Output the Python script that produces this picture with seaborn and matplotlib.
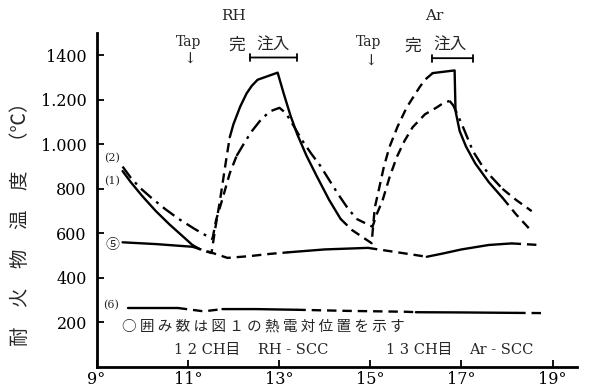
import matplotlib
matplotlib.use("Agg")
import matplotlib.pyplot as plt
import seaborn as sns
import pandas as pd

# 時刻 (h) と温度 (℃) - 図から読み取り
x_ticks = [9, 11, 13, 15, 17, 19]
x_labels = ["9°", "11°", "13°", "15°", "17°", "19°"]
y_ticks = [200, 400, 600, 800, 1000, 1200, 1400]
y_labels = ["200", "400", "600", "800", "1.000", "1.200", "1400"]

# (1) 実線 / 加熱中は破線
c1_hours = [9.57, 9.75, 10.0, 10.3, 10.6, 10.9, 11.1,
            11.3, 11.52, 11.6, 11.7, 11.85,
            11.92, 12.0, 12.15, 12.29, 12.4, 12.53, 12.97, 13.1, 13.25, 13.4, 13.6, 13.82, 14.1,
            14.35, 14.6, 15.03, 15.1, 15.2, 15.3, 15.42, 15.6, 15.8, 16.08, 16.2,
            16.37, 16.85, 16.87, 16.96, 17.1, 17.3, 17.6,
            17.9, 18.2, 18.56]
c1_temps = [880, 830, 768, 700, 640, 585, 548,
            525, 512, 620, 741, 942,
            1032, 1090, 1170, 1229, 1262, 1290, 1322, 1230, 1130, 1045, 950, 860, 750,
            665, 615, 556, 716, 807, 900, 987, 1080, 1166, 1256, 1290,
            1320, 1332, 1150, 1060, 990, 915, 830,
            760, 685, 605]
c1_styles = ["solid"] * 6 + ["dashed"] * 6 + ["solid"] * 13 + ["dashed"] * 11 + ["solid"] * 7 + ["dashed"] * 3

# (2) 一点鎖線
c2_hours = [9.57, 9.75, 9.95, 10.2, 10.5, 10.8, 11.15,
            11.54, 11.62, 11.76, 11.92,
            12.07, 12.25, 12.4, 12.6, 12.8, 13.01, 13.15, 13.3, 13.5, 13.7, 13.9, 14.1, 14.3, 14.5,
            14.7, 14.9, 15.05, 15.15, 15.27, 15.42, 15.58, 15.75, 15.93, 16.2, 16.46, 16.6,
            16.74, 16.82, 16.9, 17.05, 17.25, 17.45, 17.65,
            17.9, 18.2, 18.54]
c2_temps = [900, 850, 805, 760, 710, 665, 620,
            574, 660, 755, 870,
            948, 1010, 1058, 1110, 1148, 1164, 1140, 1090, 1020, 960, 905, 840, 775, 715,
            665, 645, 630, 690, 748, 850, 942, 1015, 1077, 1135, 1166, 1185,
            1195, 1175, 1140, 1070, 970, 905, 855,
            800, 750, 700]
c2_styles = ["dashdot"] * 7 + ["dashed"] * 4 + ["dashdot"] * 14 + ["dashed"] * 12 + ["dashdot"] * 7 + ["dashed"] * 3

# (5)
c5_hours = [9.57, 10.3, 11.1, 11.5, 11.87, 12.36, 12.8, 13.2, 14.0, 14.95,
            15.6, 16.24, 16.6, 17.0, 17.6, 18.1, 18.7]
c5_temps = [560, 552, 540, 515, 490, 498, 508, 515, 528, 535,
            515, 495, 510, 528, 548, 555, 548]
c5_styles = ["solid"] * 2 + ["dashed"] * 5 + ["solid"] * 2 + ["dashed"] * 2 + ["solid"] * 4 + ["dashed"] * 2

# (6)
c6_hours = [9.68, 10.78, 11.35, 11.76, 12.5, 13.38, 14.5, 15.8, 16.0, 17.0, 18.2, 18.8]
c6_temps = [265, 265, 250, 260, 260, 257, 252, 248, 246, 245, 243, 242]
c6_styles = ["solid"] + ["dashed"] * 2 + ["solid"] * 2 + ["dashed"] * 3 + ["solid"] * 2 + ["dashed"] * 2

dash_map = {"solid": "", "dashed": (4, 2.5), "dashdot": (6, 2.5, 1.2, 2.5)}


def to_rows(name, hours, temps, styles):
    # 線種が変わるところで区切る（境界の点は両方に入れる）
    rows, seg, start = [], 0, 0
    n = len(hours)
    for i in range(1, n):
        if i == n - 1 or styles[i] != styles[start]:
            for j in range(start, i + 1):
                rows.append({"seg": f"{name}-{seg}", "style": styles[start],
                             "hour": hours[j], "temp": temps[j]})
            seg += 1
            start = i
    return rows


rows = (to_rows("c1", c1_hours, c1_temps, c1_styles)
        + to_rows("c2", c2_hours, c2_temps, c2_styles)
        + to_rows("c5", c5_hours, c5_temps, c5_styles)
        + to_rows("c6", c6_hours, c6_temps, c6_styles))
df = pd.DataFrame(rows)

sns.set_style("ticks")
plt.rcParams["font.family"] = ["Noto Sans CJK JP", "DejaVu Sans"]
serif = ["DejaVu Serif", "Noto Sans CJK JP"]

fig = plt.figure(figsize=(5.9, 3.92), dpi=100)
ax = fig.add_axes([0.1637, 0.0638, 0.814, 0.852])

sns.lineplot(data=df, x="hour", y="temp", units="seg", style="style", dashes=dash_map,
             estimator=None, sort=False, color="black", lw=1.7, legend=False, ax=ax,
             solid_joinstyle="round", dash_joinstyle="round")

ax.set_xlim(9, 19.53)
ax.set_ylim(0, 1500)
ax.set_xticks(x_ticks)
ax.set_xticklabels(x_labels, fontfamily=serif)
ax.set_yticks(y_ticks)
ax.set_yticklabels(y_labels, fontfamily=serif)
ax.tick_params(direction="in", length=5, width=1.3, labelsize=11.5, colors="black")
ax.tick_params(axis="y", pad=7)
ax.tick_params(axis="x", pad=3)
ax.set_xlabel("")
ax.set_ylabel("")
sns.despine(ax=ax)
for s in ["left", "bottom"]:
    ax.spines[s].set_linewidth(2)
    ax.spines[s].set_color("black")

fig.text(0.034, 0.44, "耐　火　物　温　度　（℃）", rotation=90, ha="center", va="center", fontsize=14)

# 上部の注記
fig.text(0.395, 0.959, "RH", ha="center", va="center", fontsize=11, fontfamily=serif)
fig.text(0.319, 0.893, "Tap", ha="center", va="center", fontsize=10, fontfamily=serif)
fig.text(0.322, 0.847, "↓", ha="center", va="center", fontsize=11, fontfamily=serif)
fig.text(0.402, 0.885, "完", ha="center", va="center", fontsize=12)
fig.text(0.463, 0.885, "注入", ha="center", va="center", fontsize=12)
ax.annotate("", xy=(13.45, 1390), xytext=(12.3, 1390),
            arrowprops=dict(arrowstyle="|-|", mutation_scale=2.5, lw=1.3, color="black"))

fig.text(0.736, 0.959, "Ar", ha="center", va="center", fontsize=11, fontfamily=serif)
fig.text(0.625, 0.893, "Tap", ha="center", va="center", fontsize=10, fontfamily=serif)
fig.text(0.629, 0.842, "↓", ha="center", va="center", fontsize=11, fontfamily=serif)
fig.text(0.70, 0.883, "完", ha="center", va="center", fontsize=12)
fig.text(0.763, 0.885, "注入", ha="center", va="center", fontsize=12)
ax.annotate("", xy=(17.31, 1387), xytext=(16.3, 1387),
            arrowprops=dict(arrowstyle="|-|", mutation_scale=2.5, lw=1.3, color="black"))

# 曲線番号
fig.text(0.19, 0.597, "(2)", ha="center", va="center", fontsize=8, fontfamily=serif)
fig.text(0.19, 0.538, "(1)", ha="center", va="center", fontsize=8, fontfamily=serif)
fig.text(0.19, 0.375, "⑤", ha="center", va="center", fontsize=10)
fig.text(0.188, 0.222, "(6)", ha="center", va="center", fontsize=8, fontfamily=serif)

fig.text(0.207, 0.168, " ".join("○囲み数は図１の熱電対位置を示す"), ha="left", va="center", fontsize=10.5)
fig.text(0.295, 0.107, "1 2 CH目", ha="left", va="center", fontsize=10.5, fontfamily=serif)
fig.text(0.437, 0.107, "RH - SCC", ha="left", va="center", fontsize=10.5, fontfamily=serif)
fig.text(0.655, 0.107, "1 3 CH目", ha="left", va="center", fontsize=10.5, fontfamily=serif)
fig.text(0.795, 0.107, "Ar - SCC", ha="left", va="center", fontsize=10.5, fontfamily=serif)

fig.savefig("out.png", dpi=100)
